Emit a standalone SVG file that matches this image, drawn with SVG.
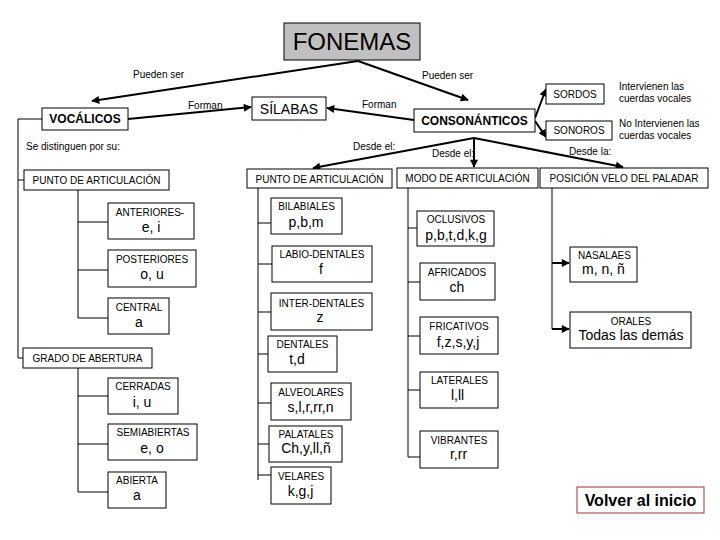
<svg xmlns="http://www.w3.org/2000/svg" width="720" height="540" viewBox="0 0 720 540">
<style>
text{font-family:"Liberation Sans",Arial,sans-serif;fill:#000}
.box{fill:#fff;stroke:#000;stroke-width:1}
.s{font-size:10px}
.v{font-size:14px}
.c{text-anchor:middle}
.b{font-weight:bold;font-size:12px}
.arr{fill:none;stroke:#000;stroke-width:2;marker-end:url(#ah)}
.ln{fill:none;stroke:#000;stroke-width:1}
</style>
<defs>
<marker id="ah" viewBox="0 0 10 10" refX="9" refY="5" markerWidth="4.5" markerHeight="4" orient="auto" markerUnits="strokeWidth">
<path d="M0,0 L10,5 L0,10 z" fill="#000"/>
</marker>
</defs>
<rect width="720" height="540" fill="#fff"/>
<g id="connectors">
<path class="arr" d="M358,61 L92,101"/>
<path class="arr" d="M358,61 L468,100"/>
<path class="arr" d="M128,119 L251,107"/>
<path class="arr" d="M414,120 L327,108"/>
<path class="arr" d="M535,118 L546,89"/>
<path class="arr" d="M535,121 L546,137"/>
<path class="arr" d="M474,138 L313,168"/>
<path class="arr" d="M474,138 L474,167"/>
<path class="arr" d="M474,138 L623,167"/>
<path class="arr" d="M552,263 L569,263"/>
<path class="arr" d="M552,329 L569,329"/>
<path class="ln" d="M42,119 H18 V358 H23 M18,180 H24"/>
<path class="ln" d="M78,190 V318 M78,222 H108 M78,270 H108 M78,318 H108"/>
<path class="ln" d="M78,368 V492 M78,396 H108 M78,444 H108 M78,492 H108"/>
<path class="ln" d="M258,188 V480 M258,223 H271 M258,264 H272 M258,312 H271 M258,354 H268 M258,403 H271 M258,444 H269 M258,475 H271"/>
<path class="ln" d="M408,188 V457 M408,228 H417 M408,282 H420 M408,336 H420 M408,390 H420 M408,457 H420"/>
<path class="ln" d="M552,188 V329"/>
</g>
<g id="labels">
<text class="s" x="133" y="78">Pueden ser</text>
<text class="s" x="422" y="79">Pueden ser</text>
<text class="s" x="188" y="109">Forman</text>
<text class="s" x="362" y="108">Forman</text>
<text class="s" x="26" y="150">Se distinguen por su:</text>
<text class="s" x="353" y="150">Desde el:</text>
<text class="s" x="432" y="157">Desde el:</text>
<text class="s" x="569" y="155">Desde la:</text>
<text class="s" x="619" y="90">Intervienen las</text>
<text class="s" x="619" y="102">cuerdas vocales</text>
<text class="s" x="619" y="127">No Intervienen las</text>
<text class="s" x="619" y="139">cuerdas vocales</text>
</g>
<g id="fonemas"><rect x="284" y="23" width="136" height="37" fill="#c0c0c0" stroke="#000"/><text x="352" y="50" class="c" font-size="24">FONEMAS</text></g>
<g id="vocalicos"><rect class="box" x="42" y="108" width="86" height="22"/><text class="b c" x="85" y="123">VOCÁLICOS</text></g>
<g id="silabas"><rect class="box" x="252" y="97" width="74" height="23"/><text class="c" font-size="14" x="289" y="113.5">SÍLABAS</text></g>
<g id="consonanticos"><rect class="box" x="414" y="109" width="121" height="23"/><text class="b c" x="474.5" y="125">CONSONÁNTICOS</text></g>
<g id="sordos"><rect class="box" x="546" y="84" width="58" height="20"/><text class="s c" x="575" y="97.5">SORDOS</text></g>
<g id="sonoros"><rect class="box" x="546" y="121" width="66" height="19"/><text class="s c" x="579" y="134">SONOROS</text></g>
<g id="punto-v"><rect class="box" x="24" y="170" width="145" height="20"/><text class="s c" x="96.5" y="183.5">PUNTO DE ARTICULACIÓN</text></g>
<g id="punto-c"><rect class="box" x="247" y="169" width="145" height="19"/><text class="s c" x="319.5" y="182.5">PUNTO DE ARTICULACIÓN</text></g>
<g id="modo"><rect class="box" x="397" y="168" width="141" height="20"/><text class="s c" x="467.5" y="182">MODO DE ARTICULACIÓN</text></g>
<g id="posicion"><rect class="box" x="540" y="168" width="168" height="20"/><text class="s c" x="624" y="182">POSICIÓN VELO DEL PALADAR</text></g>
<g id="grado"><rect class="box" x="23" y="348" width="129" height="20"/><text class="s c" x="87.5" y="361.5">GRADO DE ABERTURA</text></g>
<g id="anteriores"><rect class="box" x="108" y="203" width="86" height="36"/><text class="s c" x="150" y="216">ANTERIORES-</text><text class="v c" x="151" y="232">e, i</text></g>
<g id="posteriores"><rect class="box" x="108" y="250" width="88" height="37"/><text class="s c" x="152" y="263">POSTERIORES</text><text class="v c" x="152" y="279">o, u</text></g>
<g id="central"><rect class="box" x="108" y="298" width="61" height="36"/><text class="s c" x="139" y="311">CENTRAL</text><text class="v c" x="139" y="327">a</text></g>
<g id="cerradas"><rect class="box" x="108" y="378" width="70" height="36"/><text class="s c" x="143" y="390">CERRADAS</text><text class="v c" x="142" y="407">i, u</text></g>
<g id="semiabiertas"><rect class="box" x="108" y="424" width="89" height="36"/><text class="s c" x="153" y="436">SEMIABIERTAS</text><text class="v c" x="152" y="453">e, o</text></g>
<g id="abierta"><rect class="box" x="108" y="472" width="58" height="36"/><text class="s c" x="137" y="484">ABIERTA</text><text class="v c" x="137" y="500">a</text></g>
<g id="bilabiales"><rect class="box" x="271" y="198" width="71" height="36"/><text class="s c" x="306.5" y="210">BILABIALES</text><text class="v c" x="306" y="227">p,b,m</text></g>
<g id="labiodentales"><rect class="box" x="272" y="246" width="100" height="36"/><text class="s c" x="322" y="258">LABIO-DENTALES</text><text class="v c" x="321" y="274">f</text></g>
<g id="interdentales"><rect class="box" x="271" y="293" width="101" height="37"/><text class="s c" x="321.5" y="307">INTER-DENTALES</text><text class="v c" x="320" y="322">z</text></g>
<g id="dentales"><rect class="box" x="268" y="336" width="69" height="36"/><text class="s c" x="302.5" y="348">DENTALES</text><text class="v c" x="297" y="364">t,d</text></g>
<g id="alveolares"><rect class="box" x="271" y="383" width="80" height="37"/><text class="s c" x="311" y="396">ALVEOLARES</text><text class="v c" x="310.5" y="412">s,l,r,rr,n</text></g>
<g id="palatales"><rect class="box" x="269" y="426" width="73" height="36"/><text class="s c" x="306" y="438">PALATALES</text><text class="v c" x="306" y="453">Ch,y,ll,ñ</text></g>
<g id="velares"><rect class="box" x="271" y="467" width="60" height="37"/><text class="s c" x="301" y="480">VELARES</text><text class="v c" x="300.5" y="496">k,g,j</text></g>
<g id="oclusivos"><rect class="box" x="417" y="211" width="77" height="35"/><text class="s c" x="456" y="222.5">OCLUSIVOS</text><text class="v c" x="456" y="240">p,b,t,d,k,g</text></g>
<g id="africados"><rect class="box" x="420" y="263" width="75" height="37"/><text class="s c" x="457" y="276">AFRICADOS</text><text class="v c" x="457" y="292">ch</text></g>
<g id="fricativos"><rect class="box" x="420" y="317" width="78" height="37"/><text class="s c" x="459" y="330">FRICATIVOS</text><text class="v c" x="458" y="347">f,z,s,y,j</text></g>
<g id="laterales"><rect class="box" x="420" y="372" width="78" height="36"/><text class="s c" x="459.5" y="384">LATERALES</text><text class="v c" x="457.5" y="400">l,ll</text></g>
<g id="vibrantes"><rect class="box" x="420" y="431" width="78" height="37"/><text class="s c" x="459" y="444">VIBRANTES</text><text class="v c" x="458.5" y="459">r,rr</text></g>
<g id="nasales"><rect class="box" x="570" y="247" width="67" height="35"/><text class="s c" x="604.5" y="258.5">NASALAES</text><text class="v c" x="603.5" y="274">m, n, ñ</text></g>
<g id="orales"><rect class="box" x="570" y="312" width="121" height="36"/><text class="s c" x="631" y="324.5">ORALES</text><text class="v c" x="631" y="340">Todas las demás</text></g>
<g id="volver"><rect x="577" y="487" width="127" height="26" fill="#fff" stroke="#a03040" stroke-width="1"/><text class="c" font-size="16" font-weight="bold" x="640.5" y="505.5">Volver al inicio</text></g>
</svg>
